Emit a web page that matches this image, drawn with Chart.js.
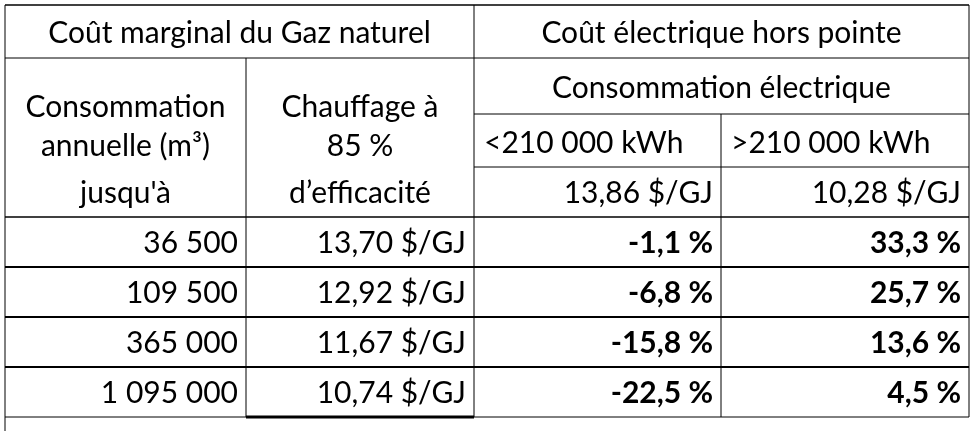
<!DOCTYPE html>
<html><head><meta charset="utf-8">
<script src="https://cdn.jsdelivr.net/npm/chart.js@4"></script>
<style>body{margin:0;background:#fff}canvas{display:block}</style>
</head><body><canvas id="c" width="976" height="431"></canvas>
<script>
const groupHeaders = ["Coût marginal du Gaz naturel", "Coût électrique hors pointe"];
const colHeader1 = ["Consommation", "annuelle (m³)", "jusqu'à"];
const colHeader2 = ["Chauffage à", "85 %", "d’efficacité"];
const subHeader = "Consommation électrique";
const tierLabels = ["<210 000 kWh", ">210 000 kWh"];
const tierPrices = ["13,86 $/GJ", "10,28 $/GJ"];
const consumption = ["36 500", "109 500", "365 000", "1 095 000"];
const gasCost = ["13,70 $/GJ", "12,92 $/GJ", "11,67 $/GJ", "10,74 $/GJ"];
const diffLow = ["-1,1 %", "-6,8 %", "-15,8 %", "-22,5 %"];
const diffHigh = ["33,3 %", "25,7 %", "13,6 %", "4,5 %"];

const tablePlugin = {
  id: 'table',
  afterDraw(chart) {
    const ctx = chart.ctx, X = v => chart.scales.x.getPixelForValue(v), Y = v => chart.scales.y.getPixelForValue(v);
    const cx = [5, 246, 474, 721, 969];
    const ry = [5, 58, 114, 167, 217, 267, 317, 367, 417];
    ctx.save();
    ctx.strokeStyle = '#000';
    const line = (x1, y1, x2, y2, w) => { ctx.lineWidth = w; ctx.beginPath(); ctx.moveTo(X(x1), Y(y1)); ctx.lineTo(X(x2), Y(y2)); ctx.stroke(); };
    line(cx[0], ry[0], cx[4], ry[0], 1.5);
    line(cx[0], ry[1], cx[4], ry[1], 1);
    line(cx[2], ry[2], cx[4], ry[2], 1);
    line(cx[2], ry[3], cx[4], ry[3], 1);
    line(cx[0], ry[4], cx[4], ry[4], 1.5);
    for (let i = 5; i < 8; i++) line(cx[0], ry[i], cx[4], ry[i], 2);
    line(cx[0], ry[8], cx[4], ry[8], 1);
    line(cx[1], ry[8], cx[2], ry[8], 3);
    line(cx[0], ry[0], cx[0], 431, 1);
    line(cx[4], ry[0], cx[4], ry[8], 1);
    line(cx[2], ry[0], cx[2], ry[8], 1);
    line(cx[1], ry[1], cx[1], ry[8], 1);
    line(cx[3], ry[2], cx[3], ry[8], 1);
    ctx.fillStyle = '#000';
    ctx.textBaseline = 'middle';
    const txt = (s, x, y, align, bold) => { ctx.font = (bold ? 'bold ' : '') + '30px Lato'; ctx.textAlign = align; ctx.fillText(s, X(x), Y(y)); };
    txt(groupHeaders[0], (cx[0] + cx[2]) / 2, 33, 'center');
    txt(groupHeaders[1], (cx[2] + cx[4]) / 2, 33, 'center');
    const hy = [107, 146, 193];
    colHeader1.forEach((s, i) => txt(s, (cx[0] + cx[1]) / 2, hy[i], 'center'));
    colHeader2.forEach((s, i) => txt(s, (cx[1] + cx[2]) / 2, hy[i], 'center'));
    txt(subHeader, (cx[2] + cx[4]) / 2, 88, 'center');
    tierLabels.forEach((s, i) => txt(s, cx[2 + i] + 10, 143, 'left'));
    tierPrices.forEach((s, i) => txt(s, cx[3 + i] - 8, 193, 'right'));
    consumption.forEach((s, i) => {
      const y = (ry[4 + i] + ry[5 + i]) / 2 + 1;
      txt(s, cx[1] - 8, y, 'right');
      txt(gasCost[i], cx[2] - 8, y, 'right');
      txt(diffLow[i], cx[3] - 8, y, 'right', true);
      txt(diffHigh[i], cx[4] - 8, y, 'right', true);
    });
    ctx.restore();
  }
};

new Chart(document.getElementById('c'), {
  type: 'scatter',
  data: { datasets: [] },
  options: {
    responsive: false, animation: false,
    layout: { padding: 0 },
    plugins: { legend: { display: false }, tooltip: { enabled: false } },
    scales: {
      x: { type: 'linear', min: 0, max: 976, display: false },
      y: { type: 'linear', min: 0, max: 431, reverse: true, display: false }
    }
  },
  plugins: [tablePlugin]
});
</script></body></html>
